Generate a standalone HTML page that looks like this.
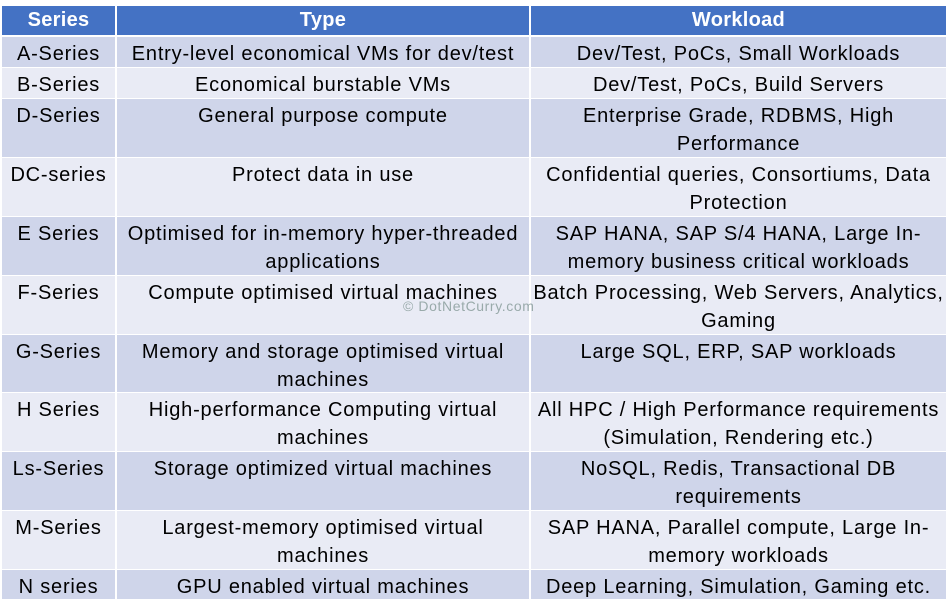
<!DOCTYPE html>
<html><head><meta charset="utf-8"><style>
body{margin:0;width:950px;height:614px;background:#fff;position:relative;overflow:hidden;font-family:"Liberation Sans",Arial,sans-serif;}
.r{position:absolute;left:2px;width:944px;}
.c{position:absolute;top:0;bottom:0;text-align:center;font-size:20px;letter-spacing:0.8px;line-height:28px;color:#000;padding-top:3px;box-sizing:border-box;white-space:nowrap}
.c1{left:0;width:113px}.c2{left:115px;width:412px}.c3{left:529px;width:415px}
.h .c{background:#4472C4;color:#fff;font-weight:bold;font-size:20px;letter-spacing:0.3px;padding-top:0}
.d .c{background:#CFD5EA}.l .c{background:#E9EBF5}
.wm{position:absolute;left:403px;top:298px;font-size:14px;letter-spacing:0.6px;color:#9aa;}
</style></head><body>
<div class="r h" style="top:6px;height:29px"><div class="c c1">Series</div><div class="c c2">Type</div><div class="c c3">Workload</div></div>
<div class="r d" style="top:37px;height:30px"><div class="c c1">A-Series</div><div class="c c2">Entry-level economical VMs for dev/test</div><div class="c c3">Dev/Test, PoCs, Small Workloads</div></div>
<div class="r l" style="top:68px;height:30px"><div class="c c1">B-Series</div><div class="c c2">Economical burstable VMs</div><div class="c c3">Dev/Test, PoCs, Build Servers</div></div>
<div class="r d" style="top:99px;height:58px"><div class="c c1">D-Series</div><div class="c c2">General purpose compute</div><div class="c c3">Enterprise Grade, RDBMS, High<br>Performance</div></div>
<div class="r l" style="top:158px;height:58px"><div class="c c1">DC-series</div><div class="c c2">Protect data in use</div><div class="c c3">Confidential queries, Consortiums, Data<br>Protection</div></div>
<div class="r d" style="top:217px;height:58px"><div class="c c1">E Series</div><div class="c c2">Optimised for in-memory hyper-threaded<br>applications</div><div class="c c3">SAP HANA, SAP S/4 HANA, Large In-<br>memory business critical workloads</div></div>
<div class="r l" style="top:276px;height:58px"><div class="c c1">F-Series</div><div class="c c2">Compute optimised virtual machines</div><div class="c c3">Batch Processing, Web Servers, Analytics,<br>Gaming</div></div>
<div class="r d" style="top:335px;height:57px"><div class="c c1">G-Series</div><div class="c c2">Memory and storage optimised virtual<br>machines</div><div class="c c3">Large SQL, ERP, SAP workloads</div></div>
<div class="r l" style="top:393px;height:58px"><div class="c c1">H Series</div><div class="c c2">High-performance Computing virtual<br>machines</div><div class="c c3">All HPC / High Performance requirements<br>(Simulation, Rendering etc.)</div></div>
<div class="r d" style="top:452px;height:58px"><div class="c c1">Ls-Series</div><div class="c c2">Storage optimized virtual machines</div><div class="c c3">NoSQL, Redis, Transactional DB<br>requirements</div></div>
<div class="r l" style="top:511px;height:58px"><div class="c c1">M-Series</div><div class="c c2">Largest-memory optimised virtual<br>machines</div><div class="c c3">SAP HANA, Parallel compute, Large In-<br>memory workloads</div></div>
<div class="r d" style="top:570px;height:29px"><div class="c c1">N series</div><div class="c c2">GPU enabled virtual machines</div><div class="c c3">Deep Learning, Simulation, Gaming etc.</div></div>
<div class="wm">© DotNetCurry.com</div>
</body></html>
